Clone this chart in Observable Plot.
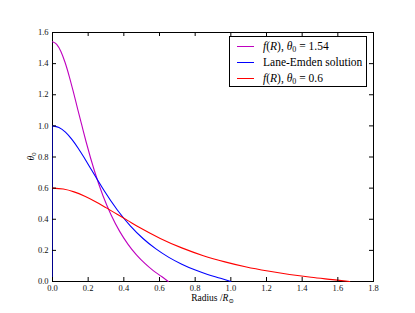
<!DOCTYPE html>
<html>
<head>
<meta charset="utf-8">
<script src="https://cdn.jsdelivr.net/npm/d3@7"></script>
<script src="https://cdn.jsdelivr.net/npm/@observablehq/plot@0.6"></script>
<style>
  html, body { margin: 0; padding: 0; background: #fff; }
  #wrap { position: relative; width: 415px; height: 313px; overflow: hidden; }
  #legend {
    position: absolute; left: 229px; top: 36px; width: 136px; height: 49px;
    border: 1px solid #000; background: #fff; box-sizing: content-box;
    font-family: "Liberation Serif", "DejaVu Serif", serif; font-size: 11.5px; color: #000;
  }
  .row { position: absolute; left: 0; height: 14px; line-height: 14px; white-space: nowrap; }
  .sw { position: absolute; left: 7px; top: 7px; width: 17px; height: 1px; }
  .tx { position: absolute; left: 33px; top: 0; }
  sub { font-size: 8px; vertical-align: -2px; line-height: 0; }
</style>
</head>
<body>
<div id="wrap"></div>
<script>
// ---- data ----
const xTicks = [0.0, 0.2, 0.4, 0.6, 0.8, 1.0, 1.2, 1.4, 1.6, 1.8];
const yTicks = [0.0, 0.2, 0.4, 0.6, 0.8, 1.0, 1.2, 1.4, 1.6];

const seriesNames = ["f(R), θ0 = 1.54", "Lane-Emden solution", "f(R), θ0 = 0.6"];
const seriesColors = ["#bf00bf", "#0000ff", "#ff0000"];

// f(R), theta0 = 1.54 (magenta)
const magentaR = [0, 0.0235, 0.0471, 0.0706, 0.0942, 0.1177, 0.1412, 0.1647, 0.1883, 0.2354, 0.2825, 0.3295, 0.3766, 0.4237, 0.4708, 0.5179, 0.5649, 0.6120, 0.6494];
const magentaT = [1.54, 1.524, 1.478, 1.407, 1.317, 1.215, 1.108, 1.003, 0.898, 0.710, 0.553, 0.426, 0.322, 0.239, 0.171, 0.116, 0.070, 0.032, 0.0];

// Lane-Emden solution (blue)
const blueR = [0, 0.0362, 0.0725, 0.1087, 0.145, 0.1812, 0.2175, 0.2537, 0.29, 0.3625, 0.435, 0.5075, 0.58, 0.6525, 0.725, 0.7975, 0.87, 0.9424, 1.0];
const blueT = [1.0, 0.9896, 0.9598, 0.9133, 0.855, 0.789, 0.7195, 0.651, 0.5829, 0.4611, 0.3592, 0.2763, 0.2093, 0.1551, 0.1111, 0.075, 0.0453, 0.0207, 0.0];

// f(R), theta0 = 0.6 (red)
const redR = [0, 0.0603, 0.1208, 0.1812, 0.2417, 0.302, 0.3625, 0.4228, 0.4833, 0.6042, 0.725, 0.8458, 0.9667, 1.0875, 1.2083, 1.3292, 1.45, 1.5707, 1.6667];
const redT = [0.6, 0.594, 0.576, 0.548, 0.513, 0.473, 0.432, 0.391, 0.350, 0.277, 0.216, 0.166, 0.126, 0.093, 0.067, 0.045, 0.027, 0.012, 0.0];

const toRows = (xs, ys) => xs.map((x, i) => ({x, y: ys[i]}));
const magenta = toRows(magentaR, magentaT);
const blue = toRows(blueR, blueT);
const red = toRows(redR, redT);

// ---- layout ----
const W = 415, H = 313;
const mL = 52, mR = 42, mT = 32, mB = 32;
const fW = W - mL - mR, fH = H - mT - mB;
const TL = 4; // inward tick length
const font = "'Liberation Serif', 'DejaVu Serif', serif";

const chart = Plot.plot({
  width: W, height: H,
  marginLeft: mL, marginRight: mR, marginTop: mT, marginBottom: mB,
  style: {fontFamily: font, fontSize: "8.5px", color: "#111", background: "#fff"},
  x: {domain: [0, 1.8], label: null},
  y: {domain: [0, 1.6], label: null},
  marks: [
    Plot.frame({stroke: "#000", strokeWidth: 1}),
    // the blue solution starts from the axis at R = 0 (visible along the left spine)
    Plot.ruleX([blue[0]], {x: "x", y1: 0, y2: "y", stroke: seriesColors[1], strokeOpacity: 0.55, strokeWidth: 1}),
    Plot.line(magenta, {x: "x", y: "y", stroke: seriesColors[0], strokeWidth: 1.1, curve: "monotone-x"}),
    Plot.line(blue, {x: "x", y: "y", stroke: seriesColors[1], strokeWidth: 1.1, curve: "monotone-x"}),
    Plot.line(red, {x: "x", y: "y", stroke: seriesColors[2], strokeWidth: 1.1, curve: "monotone-x"}),
    Plot.tickX(xTicks, {x: d => d, insetTop: fH - TL, stroke: "#000"}),
    Plot.tickX(xTicks, {x: d => d, insetBottom: fH - TL, stroke: "#000"}),
    Plot.tickY(yTicks, {y: d => d, insetRight: fW - TL, stroke: "#000"}),
    Plot.tickY(yTicks, {y: d => d, insetLeft: fW - TL, stroke: "#000"}),
    Plot.axisX(xTicks, {anchor: "bottom", tickSize: 0, tickPadding: 3, tickFormat: d3.format(".1f"), label: null}),
    Plot.axisY(yTicks, {anchor: "left", tickSize: 0, tickPadding: 4, tickFormat: d3.format(".1f"), label: null})
  ]
});

const wrap = document.getElementById("wrap");
wrap.appendChild(chart);

// axis titles with sub/superscripts
const svg = d3.select(chart);
const xl = svg.append("text")
  .attr("x", mL + fW / 2).attr("y", H - 12)
  .attr("text-anchor", "middle")
  .attr("font-family", font).attr("font-size", 9.5).attr("fill", "#000");
xl.append("tspan").text("Radius /");
xl.append("tspan").attr("font-style", "italic").text("R");
xl.append("tspan").attr("font-size", 6.5).attr("dy", 2).text("⊙");

const yl = svg.append("text")
  .attr("transform", `translate(34,${mT + fH / 2}) rotate(-90)`)
  .attr("text-anchor", "middle")
  .attr("font-family", font).attr("font-size", 9.5).attr("fill", "#000");
yl.append("tspan").attr("font-style", "italic").text("θ");
yl.append("tspan").attr("font-size", 6.5).attr("dy", 2).text("0");

// legend
const legend = document.createElement("div");
legend.id = "legend";
const labelsHtml = [
  "<i>f</i>(<i>R</i>), <i>θ</i><sub>0</sub> = 1.54",
  "Lane-Emden solution",
  "<i>f</i>(<i>R</i>), <i>θ</i><sub>0</sub> = 0.6"
];
const rowTops = [2, 18, 34];
seriesNames.forEach((name, i) => {
  const row = document.createElement("div");
  row.className = "row";
  row.style.top = rowTops[i] + "px";
  row.innerHTML = `<span class="sw" style="background:${seriesColors[i]}"></span><span class="tx" title="${name}">${labelsHtml[i]}</span>`;
  legend.appendChild(row);
});
wrap.appendChild(legend);
</script>
</body>
</html>
